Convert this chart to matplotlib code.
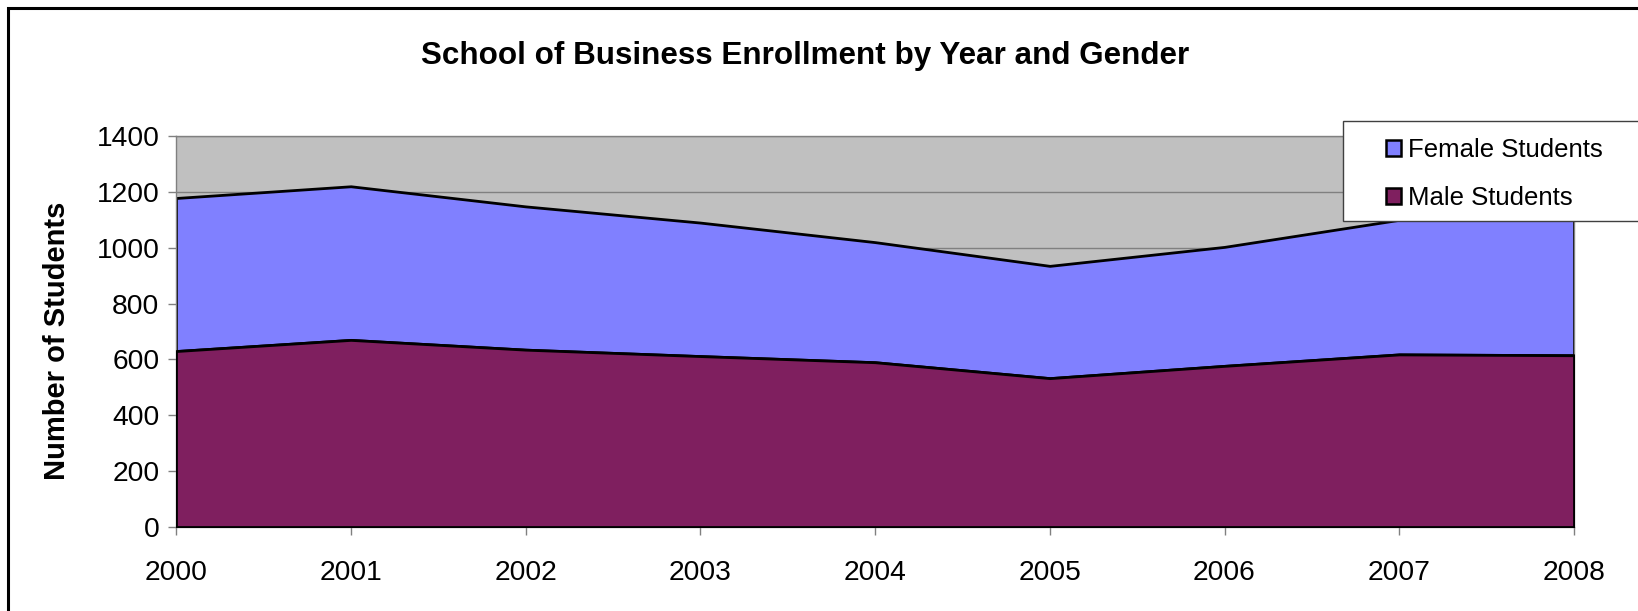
import matplotlib
matplotlib.use("Agg")
import matplotlib.pyplot as plt
from matplotlib.patches import Rectangle, Patch

years = [2000, 2001, 2002, 2003, 2004, 2005, 2006, 2007, 2008]
male = [630, 670, 635, 612, 590, 533, 577, 618, 615]
female = [548, 550, 513, 478, 430, 402, 426, 482, 535]
yticks = [0, 200, 400, 600, 800, 1000, 1200, 1400]

plt.rcParams['font.family'] = ['Liberation Sans', 'DejaVu Sans']

W, H = 1638, 611
fig = plt.figure(figsize=(W / 100, H / 100), dpi=100)

ax = fig.add_axes([176 / W, (H - 527) / H, (1574 - 176) / W, (527 - 136) / H])
ax.set_facecolor('#C0C0C0')

top = [m + f for m, f in zip(male, female)]
ax.fill_between(years, 0, male, facecolor='#7F1F5F', edgecolor='black', linewidth=2, zorder=3)
ax.fill_between(years, male, top, facecolor='#8080FF', edgecolor='black', linewidth=2, zorder=2)

ax.set_xlim(years[0], years[-1])
ax.set_ylim(0, 1400)
ax.set_xticks(years)
ax.set_xticklabels([str(y) for y in years], fontsize=20.3)
ax.set_yticks(yticks)
ax.set_yticklabels([str(v) for v in yticks], fontsize=20.3)
ax.yaxis.grid(True, color='#808080', linewidth=1)
ax.set_axisbelow(True)
ax.tick_params(axis='both', direction='out', length=6, color='#808080', width=1)
ax.tick_params(axis='x', pad=18)
ax.tick_params(axis='y', pad=6)
for s in ax.spines.values():
    s.set_color('#808080')
    s.set_linewidth(1)

ax.set_ylabel('Number of Students', fontsize=21, fontweight='bold', labelpad=18)
ax.yaxis.label.set_y(0.476)

fig.text(805 / W, 1 - 56 / H, 'School of Business Enrollment by Year and Gender',
         ha='center', va='center', fontsize=22.6, fontweight='bold')

# outer chart border (left & top visible)
fig.patches.append(Rectangle((7.5 / W, -0.1), 1.2, 1 - 8 / H + 0.1,
                             transform=fig.transFigure, fill=False,
                             edgecolor='black', linewidth=2.2, zorder=0))

# legend box
fig.patches.append(Rectangle((1343 / W, 1 - 221 / H), (W - 1343 + 20) / W, (221 - 121) / H,
                             transform=fig.transFigure, facecolor='white',
                             edgecolor='#404040', linewidth=1, zorder=4))
handles = [Patch(facecolor='#8080FF', edgecolor='black', linewidth=1.8),
           Patch(facecolor='#7F1F5F', edgecolor='black', linewidth=1.8)]
leg = fig.legend(handles, ['Female Students', 'Male Students'],
                 loc='upper left', bbox_to_anchor=(1368 / W, 1 - 120 / H),
                 frameon=False, fontsize=18.5, handlelength=0.6, handleheight=0.6,
                 handletextpad=0.25, labelspacing=0.95, borderpad=0.2)
leg.set_zorder(5)

fig.savefig('out.png', dpi=100)
